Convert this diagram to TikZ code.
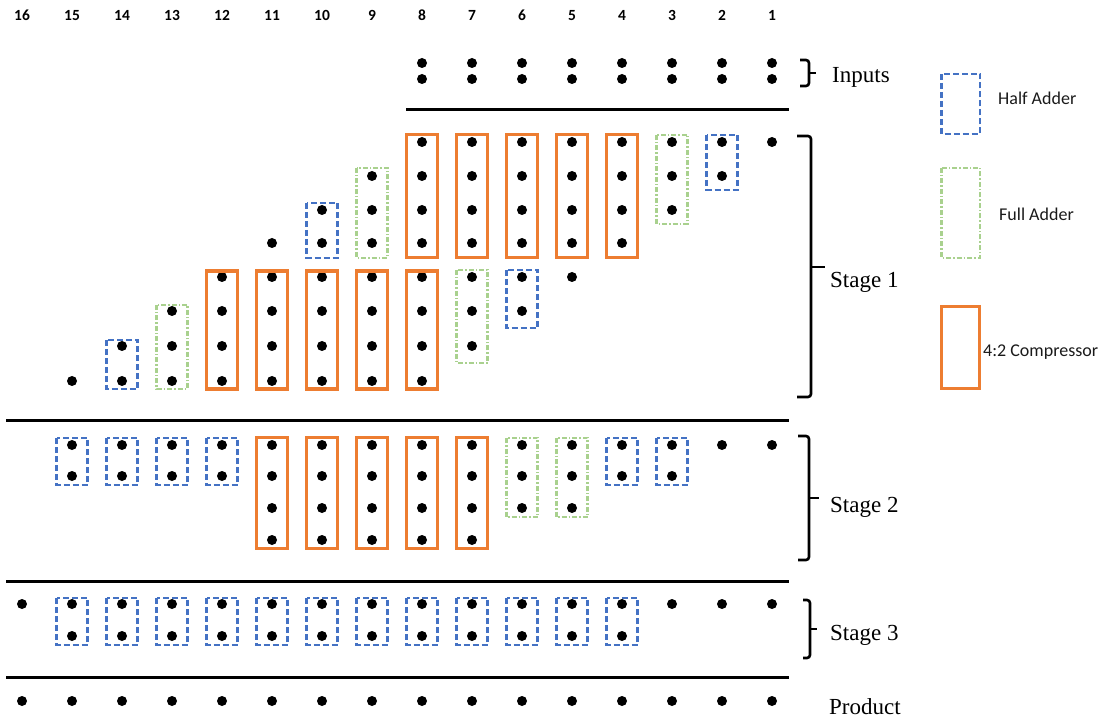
\documentclass[tikz,border=0pt]{standalone}
\usepackage{fontspec}
\setmainfont{Liberation Serif}
\newfontfamily\calib{Carlito}
\definecolor{orng}{HTML}{ED7D31}
\definecolor{blu}{HTML}{4472C4}
\definecolor{grn}{HTML}{A9D18E}
\definecolor{legtxt}{HTML}{1A1A1A}
\pgfmathdeclarefunction{colx}{1}{\pgfmathparse{772-50*(#1-1)}}
\newcommand{\dcol}[2]{\foreach \yy in {#2}{\node[dotn] (p#1-\yy) at ({colx(#1)},\yy) {};}}
\newcommand{\bx}[4]{\draw[#1] ({colx(#2)-15.5},#3) rectangle ({colx(#2)+15.5},#4);}
\newcommand{\rbr}[6]{%
  \draw[brc, rounded corners=3pt] (#1,#4) -- (#2,#4) -- (#2,#5) -- (#1,#5);
  \draw[brc] (#2,#6) -- (#3,#6);}
\begin{document}
\begin{tikzpicture}[x=1pt,y=-1pt,
  dotn/.style={circle, fill=black, inner sep=0pt, minimum size=10pt},
  comp/.style={draw=orng, line width=3.5pt},
  ha/.style={draw=blu, line width=2.6pt, dash pattern=on 6pt off 3pt},
  fa/.style={draw=grn, line width=2.2pt, dash pattern=on 5pt off 2pt on 1.5pt off 2pt},
  sep/.style={draw=black, line width=3pt},
  brc/.style={draw=black, line width=2.6pt},
  collab/.style={font=\calib\bfseries\fontsize{15.5}{15.5}\selectfont, anchor=base},
  leg/.style={font=\calib\fontsize{18}{18}\selectfont, text=legtxt, anchor=base west, inner sep=0pt},
  stg/.style={font=\fontsize{23}{23}\selectfont, anchor=base west, inner sep=0pt}]
\useasboundingbox (0,0) rectangle (1109,719);
% column labels
\foreach \c in {1,...,16}{\node[collab] (lab\c) at ({colx(\c)},21) {\c};}
% inputs
\foreach \c in {1,...,8}{\dcol{\c}{63,79}}
\rbr{800}{809}{816}{60}{86}{73}
\node[stg] (inputs) at (832,83) {Inputs};
\draw[sep] (406,110) -- (789,110);
% stage 1
\dcol{1}{142}
\dcol{2}{142,176} \bx{ha}{2}{135}{190}
\dcol{3}{142,176,210} \bx{fa}{3}{135}{224}
\foreach \c in {4,...,8}{\dcol{\c}{142,176,210,243} \bx{comp}{\c}{134.5}{257.5}}
\dcol{5}{277}
\dcol{6}{277,311} \bx{ha}{6}{270}{328}
\dcol{7}{277,311,346} \bx{fa}{7}{270}{363}
\foreach \c in {8,...,12}{\dcol{\c}{277,311,346,381} \bx{comp}{\c}{271}{389}}
\dcol{9}{176,210,243} \bx{fa}{9}{168}{258}
\dcol{10}{210,243} \bx{ha}{10}{203}{258}
\dcol{11}{243}
\dcol{13}{311,346,381} \bx{fa}{13}{305}{389}
\dcol{14}{346,381} \bx{ha}{14}{340}{389}
\dcol{15}{381}
\rbr{797}{811}{825}{136}{397}{267}
\node[stg] (stage1) at (830,288) {Stage 1};
\draw[sep] (6,420) -- (789,420);
% stage 2
\dcol{1}{445} \dcol{2}{445}
\foreach \c in {3,4,12,13,14,15}{\dcol{\c}{445,476} \bx{ha}{\c}{438}{485}}
\foreach \c in {5,6}{\dcol{\c}{445,476,508} \bx{fa}{\c}{438}{517}}
\foreach \c in {7,...,11}{\dcol{\c}{445,476,508,540} \bx{comp}{\c}{437.5}{548.5}}
\rbr{798}{809}{819}{436}{560}{498}
\node[stg] (stage2) at (830,512) {Stage 2};
\draw[sep] (6,581) -- (789,581);
% stage 3
\dcol{1}{604} \dcol{2}{604} \dcol{3}{604} \dcol{16}{604}
\foreach \c in {4,...,15}{\dcol{\c}{604,636} \bx{ha}{\c}{598}{645}}
\rbr{803}{810}{817}{600}{658}{629}
\node[stg] (stage3) at (830,640) {Stage 3};
\draw[sep] (6,677) -- (789,677);
% product
\foreach \c in {1,...,16}{\dcol{\c}{701}}
\node[stg] (product) at (829,714) {Product};
% legend
\draw[ha] (941.5,74) rectangle (980,134);
\node[leg] (lha) at (998,105) {Half Adder};
\draw[fa] (941.5,168) rectangle (980,258);
\node[leg] (lfa) at (999,221) {Full Adder};
\draw[comp] (941.5,306.5) rectangle (979.5,388.5);
\node[leg] (lcp) at (983,357) {4:2 Compressor};
\end{tikzpicture}
\end{document}
